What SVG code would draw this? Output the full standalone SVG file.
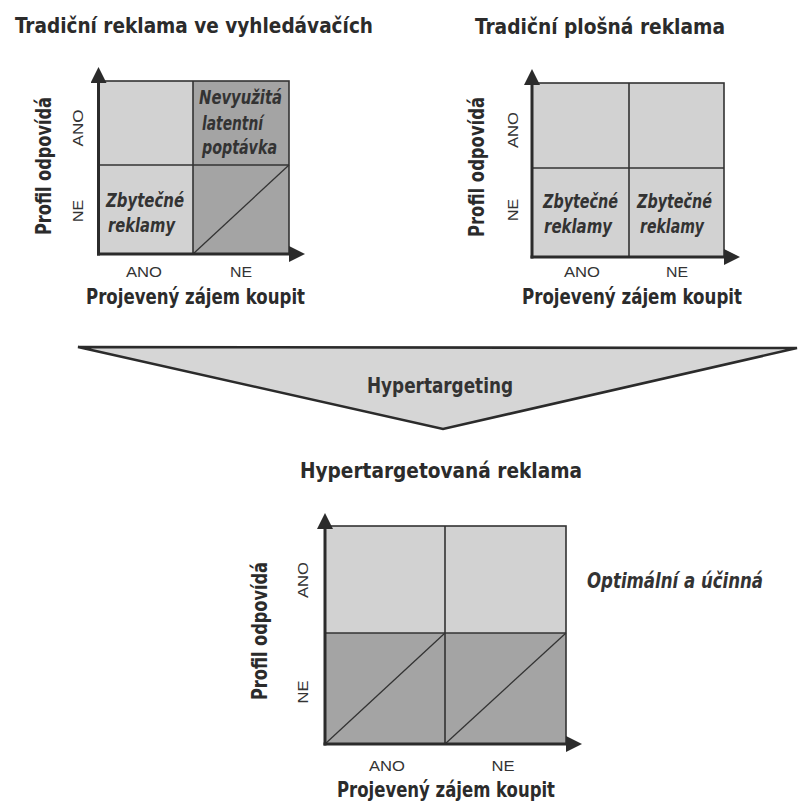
<svg xmlns="http://www.w3.org/2000/svg" width="798" height="803" viewBox="0 0 798 803">
<style>
text{font-family:"Liberation Sans Narrow","DejaVu Sans Condensed","Liberation Sans",sans-serif;fill:#2b2b2b}
.title{font-size:22px;font-weight:bold}
.axt{font-size:21px;font-weight:bold}
.small{font-family:"Liberation Sans",Arial,sans-serif;font-size:14px;text-anchor:middle;fill:#333}
.it{font-size:19px;font-style:italic;font-weight:bold;fill:#333}
.light{fill:#d2d2d2}
.dark{fill:#a4a4a4}
.grid{fill:none;stroke:#333;stroke-width:1.6}
.diag{stroke:#333;stroke-width:1.3}
.axis{stroke:#2b2b2b;stroke-width:3;fill:none;marker-end:url(#arr)}
</style>
<defs>
<marker id="arr" markerUnits="userSpaceOnUse" markerWidth="18" markerHeight="18" refX="8" refY="8" orient="auto">
<path d="M0,0 L16,8 L0,16 z" fill="#2b2b2b"/>
</marker>
</defs>
<rect width="798" height="803" fill="#ffffff"/>

<g id="chart-search">
<text class="title" x="15" y="33" textLength="358" lengthAdjust="spacingAndGlyphs">Tradiční reklama ve vyhledávačích</text>
<rect class="light" x="99" y="81" width="94" height="84"/>
<rect class="dark" x="193" y="81" width="96" height="84"/>
<rect class="light" x="99" y="165" width="94" height="89"/>
<rect class="dark" x="193" y="165" width="96" height="89"/>
<rect class="grid" x="99" y="81" width="190" height="173"/>
<line class="grid" x1="99" y1="165" x2="289" y2="165"/>
<line class="grid" x1="193" y1="81" x2="193" y2="254"/>
<line class="diag" x1="193" y1="254" x2="289" y2="165"/>
<text class="it" x="199" y="104" textLength="83" lengthAdjust="spacingAndGlyphs">Nevyužitá</text>
<text class="it" x="202" y="130" textLength="61" lengthAdjust="spacingAndGlyphs">latentní</text>
<text class="it" x="202" y="154" textLength="75" lengthAdjust="spacingAndGlyphs">poptávka</text>
<text class="it" x="106" y="207" textLength="78" lengthAdjust="spacingAndGlyphs">Zbytečné</text>
<text class="it" x="108" y="232" textLength="67" lengthAdjust="spacingAndGlyphs">reklamy</text>
<text class="small" transform="translate(83,128) rotate(-90)" textLength="37" lengthAdjust="spacingAndGlyphs">ANO</text>
<text class="small" transform="translate(83,211) rotate(-90)" textLength="22" lengthAdjust="spacingAndGlyphs">NE</text>
<text class="axt" text-anchor="middle" transform="translate(51,166) rotate(-90)" textLength="138" lengthAdjust="spacingAndGlyphs">Profil odpovídá</text>
<text class="small" x="144" y="277" textLength="36" lengthAdjust="spacingAndGlyphs">ANO</text>
<text class="small" x="241" y="277" textLength="22" lengthAdjust="spacingAndGlyphs">NE</text>
<text class="axt" x="86" y="304" textLength="219" lengthAdjust="spacingAndGlyphs">Projevený zájem koupit</text>
</g>

<g id="chart-display">
<text class="title" x="475" y="34" textLength="250" lengthAdjust="spacingAndGlyphs">Tradiční plošná reklama</text>
<rect class="light" x="532" y="83" width="192" height="174"/>
<rect class="grid" x="532" y="83" width="192" height="174"/>
<line class="grid" x1="532" y1="168" x2="724" y2="168"/>
<line class="grid" x1="629" y1="83" x2="629" y2="257"/>
<text class="it" x="543" y="208" textLength="75" lengthAdjust="spacingAndGlyphs">Zbytečné</text>
<text class="it" x="544" y="233" textLength="68" lengthAdjust="spacingAndGlyphs">reklamy</text>
<text class="it" x="637" y="208" textLength="75" lengthAdjust="spacingAndGlyphs">Zbytečné</text>
<text class="it" x="640" y="233" textLength="64" lengthAdjust="spacingAndGlyphs">reklamy</text>
<text class="small" transform="translate(518,130) rotate(-90)" textLength="36" lengthAdjust="spacingAndGlyphs">ANO</text>
<text class="small" transform="translate(518,210) rotate(-90)" textLength="22" lengthAdjust="spacingAndGlyphs">NE</text>
<text class="axt" text-anchor="middle" transform="translate(484,167) rotate(-90)" textLength="140" lengthAdjust="spacingAndGlyphs">Profil odpovídá</text>
<text class="small" x="582" y="277" textLength="36" lengthAdjust="spacingAndGlyphs">ANO</text>
<text class="small" x="677" y="277" textLength="22" lengthAdjust="spacingAndGlyphs">NE</text>
<text class="axt" x="522" y="304" textLength="220" lengthAdjust="spacingAndGlyphs">Projevený zájem koupit</text>
</g>

<g id="hypertargeting">
<polygon points="78,347 797,348 443,429" fill="#d6d6d6" stroke="#2b2b2b" stroke-width="2.6" stroke-linejoin="miter"/>
<text x="367" y="393" font-size="22" textLength="146" lengthAdjust="spacingAndGlyphs" style="font-weight:bold;fill:#333">Hypertargeting</text>
</g>

<g id="chart-hyper">
<text class="title" x="300" y="478" textLength="282" lengthAdjust="spacingAndGlyphs">Hypertargetovaná reklama</text>
<rect class="light" x="325" y="526" width="241" height="107"/>
<rect class="dark" x="325" y="633" width="241" height="111"/>
<rect class="grid" x="325" y="526" width="241" height="218"/>
<line class="grid" x1="325" y1="633" x2="566" y2="633"/>
<line class="grid" x1="445" y1="526" x2="445" y2="744"/>
<line class="diag" x1="325" y1="744" x2="445" y2="633"/>
<line class="diag" x1="445" y1="744" x2="566" y2="633"/>
<text class="it" x="587" y="588" style="font-size:21px" textLength="176" lengthAdjust="spacingAndGlyphs">Optimální a účinná</text>
<text class="small" transform="translate(308,580) rotate(-90)" textLength="36" lengthAdjust="spacingAndGlyphs">ANO</text>
<text class="small" transform="translate(308,692) rotate(-90)" textLength="23" lengthAdjust="spacingAndGlyphs">NE</text>
<text class="axt" text-anchor="middle" transform="translate(267,631) rotate(-90)" textLength="138" lengthAdjust="spacingAndGlyphs">Profil odpovídá</text>
<text class="small" x="387" y="771" textLength="36" lengthAdjust="spacingAndGlyphs">ANO</text>
<text class="small" x="503" y="771" textLength="23" lengthAdjust="spacingAndGlyphs">NE</text>
<text class="axt" x="337" y="797" textLength="218" lengthAdjust="spacingAndGlyphs">Projevený zájem koupit</text>
</g>

<g id="connectors">
<path class="axis" d="M98.5,255.5 L98.5,75"/>
<path class="axis" d="M97,254 L297,254"/>
<path class="axis" d="M532,258.5 L532,77"/>
<path class="axis" d="M530.5,257 L732,257"/>
<path class="axis" d="M325,745.5 L325,521"/>
<path class="axis" d="M323.5,744 L574,744"/>
</g>
</svg>
